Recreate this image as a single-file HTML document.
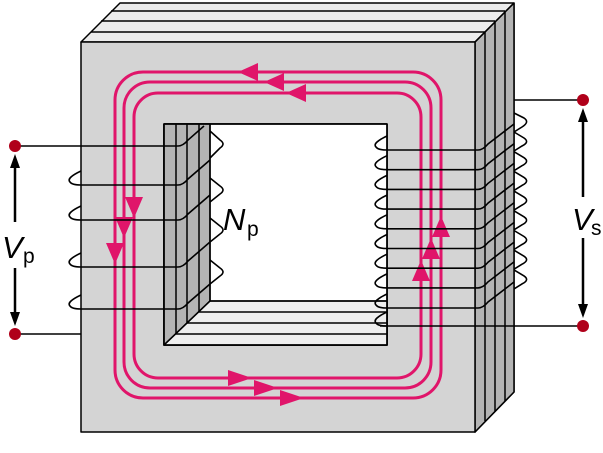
<!DOCTYPE html>
<html><head><style>html,body{margin:0;padding:0;background:#fff}svg{display:block}</style></head>
<body>
<svg width="603" height="453" viewBox="0 0 603 453" xmlns="http://www.w3.org/2000/svg" font-family="Liberation Sans, sans-serif">
<g stroke="#000" stroke-width="1.5" stroke-linejoin="round">
<polygon points="81,42 120,3 514,3 514,392 475,432 475,42" fill="#ececec"/>
<line x1="91" y1="32" x2="485" y2="32"/><line x1="101" y1="21" x2="495" y2="21"/><line x1="111" y1="11" x2="505" y2="11"/>
<polygon points="475,42 514,3 514,392 475,432" fill="#b4b4b4"/>
<line x1="485" y1="32" x2="485" y2="421"/><line x1="495" y1="21" x2="495" y2="411"/><line x1="505" y1="11" x2="505" y2="401"/>
<line x1="475" y1="42" x2="514" y2="3"/>
<path d="M81,42 H475 V432 H81 Z M164,124 V345 H387 V124 Z" fill="#d4d4d4" fill-rule="evenodd"/>
<rect x="164" y="124" width="223" height="221" fill="#fff"/>
<polygon points="164,124 210,124 210,301 164,345" fill="#b4b4b4"/>
<polygon points="164,345 210,301 387,301 387,345" fill="#efefef"/>
<line x1="176" y1="124" x2="176" y2="334"/><line x1="187" y1="124" x2="187" y2="323"/><line x1="199" y1="124" x2="199" y2="312"/><line x1="210" y1="124" x2="210" y2="301"/>
<line x1="176" y1="334" x2="387" y2="334"/><line x1="187" y1="323" x2="387" y2="323"/><line x1="199" y1="312" x2="387" y2="312"/><line x1="210" y1="301" x2="387" y2="301"/>
<line x1="164" y1="345" x2="210" y2="301"/>
<rect x="164" y="124" width="223" height="221" fill="none"/>
</g>
<g fill="none" stroke="#e0156a" stroke-width="3">
<rect x="115" y="72" width="326" height="326" rx="28"/>
<rect x="124" y="82" width="307" height="306" rx="26"/>
<rect x="134" y="93" width="287" height="285" rx="24"/>
</g>
<g fill="#e0156a">
<polygon points="238,72 258,63 258,81"/><polygon points="264,82 284,73 284,91"/><polygon points="286,93 306,84 306,102"/>
<polygon points="134,218 125,197 143,197"/><polygon points="124,238 115,217 133,217"/><polygon points="115,264 106,243 124,243"/>
<polygon points="441,216 432,237 450,237"/><polygon points="431,238 422,259 440,259"/><polygon points="421,260 412,281 430,281"/>
<polygon points="252,378 228,370 228,386"/><polygon points="278,388 254,380 254,396"/><polygon points="304,398 280,390 280,406"/>
</g>
<g fill="none" stroke="#000" stroke-width="1.6">
<path d="M15,146 H178 Q183,146 188,140 L204,126"/>
<path d="M81,334 H15"/>
<path d="M81,171 Q66,178 70,182 Q72,185 81,185 H178 Q183,185 188,179 L210,160"/>
<path d="M81,206 Q66,213 70,217 Q72,220 81,220 H178 Q183,220 188,214 L210,195"/>
<path d="M81,253 Q66,260 70,264 Q72,267 81,267 H178 Q183,267 188,261 L210,242"/>
<path d="M81,295 Q66,302 70,306 Q72,309 81,309 H178 Q183,309 188,303 L210,284"/>
<path d="M210,131 L220,140 Q226,144 220,148 L210,158"/>
<path d="M210,178 L220,186 Q226,190 220,194 L210,202"/>
<path d="M210,218 L220,226 Q226,230 220,234 L210,242"/>
<path d="M210,260 L220,268 Q226,272 220,276 L210,284"/>
</g>
<g fill="none" stroke="#000" stroke-width="1.6">
<path d="M514,100 H583"/>
<path d="M380,326 H583"/>
<path d="M514,113 L524,118 Q530,122 522,127 L514,132"/>
<g id="t">
<path d="M387,136 Q372,143 376,147 Q378,150 387,150 H478 Q483,150 488,144 L514,124"/>
<path d="M514,132 L524,138 Q530,142 522,146 L514,151"/>
</g>
<use href="#t" y="19.7"/><use href="#t" y="39.4"/><use href="#t" y="59.1"/><use href="#t" y="78.8"/><use href="#t" y="98.5"/><use href="#t" y="118.2"/><use href="#t" y="137.9"/>
<path d="M387,294 Q372,301 376,305 Q378,308 387,308 H478 Q483,308 488,302 L514,282"/>
<path d="M387,312 Q372,319 376,323 Q378,326 387,326"/>
</g>
<g fill="#b0001a"><circle cx="15" cy="146" r="6"/><circle cx="15" cy="334" r="6"/><circle cx="583" cy="100" r="6"/><circle cx="583" cy="326" r="6"/></g>
<g stroke="#000" stroke-width="2.5">
<line x1="15" y1="166" x2="15" y2="222"/><line x1="15" y1="268" x2="15" y2="314"/>
<line x1="583" y1="120" x2="583" y2="197"/><line x1="583" y1="238" x2="583" y2="306"/>
</g>
<g fill="#000">
<polygon points="15,154 10,168 20,168"/><polygon points="15,326 10,312 20,312"/>
<polygon points="583,108 578,122 588,122"/><polygon points="583,318 578,304 588,304"/>
</g>
<g font-size="31" fill="#000">
<text x="2" y="258" font-style="italic">V</text><text x="23" y="263" font-size="21">p</text>
<text x="223" y="230" font-style="italic">N</text><text x="247" y="236" font-size="21">p</text>
<text x="572" y="230" font-style="italic">V</text><text x="591" y="235" font-size="21">s</text>
</g>
</svg>
</body></html>
